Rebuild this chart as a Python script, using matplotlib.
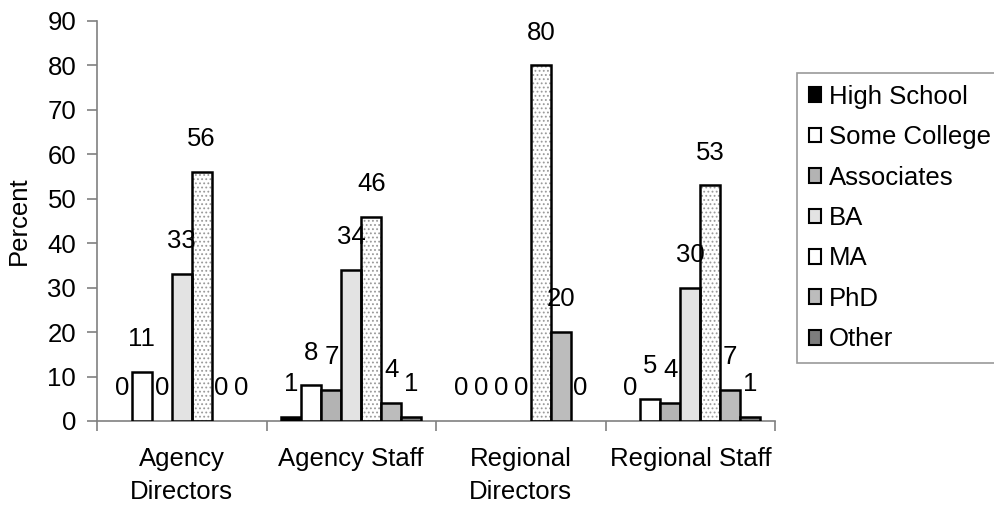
import matplotlib
matplotlib.use("Agg")
import matplotlib.pyplot as plt
import numpy as np
from matplotlib.patches import Patch

plt.rcParams["font.family"] = ["Liberation Sans", "DejaVu Sans"]
plt.rcParams["hatch.linewidth"] = 0.8

# Education level by respondent group (percent)
categories = ["Agency\nDirectors", "Agency Staff", "Regional\nDirectors", "Regional Staff"]
levels = ["High School", "Some College", "Associates", "BA", "MA", "PhD", "Other"]
high_school = [0, 1, 0, 0]
some_college = [11, 8, 0, 5]
associates = [0, 7, 0, 4]
ba = [33, 34, 0, 30]
ma = [56, 46, 80, 53]
phd = [0, 4, 20, 7]
other = [0, 1, 0, 1]
series = [high_school, some_college, associates, ba, ma, phd, other]
yticks = [0, 10, 20, 30, 40, 50, 60, 70, 80, 90]

fills = ["#000000", "#ffffff", "#b3b3b3", "#e3e3e3", "#ffffff", "#bcbcbc", "#7d7d7d"]
hatches = [None, None, None, None, "....", None, None]

fig = plt.figure(figsize=(9.95, 5.08), dpi=100)
ax = fig.add_axes([0.0975, 0.1713, 0.6815, 0.7874])

n = len(levels)
gap = 1.5
width = 1.0 / (n + gap)
x = np.arange(len(categories))
fs = 18.5

for i, (vals, col, h) in enumerate(zip(series, fills, hatches)):
    pos = x + (i - (n - 1) / 2) * width
    lws = [1.8 if v > 0 else 0 for v in vals]
    if h:
        ax.bar(pos, vals, width, color=col, hatch=h, edgecolor="#9a9a9a", linewidth=0, zorder=2)
        bars = ax.bar(pos, vals, width, fill=False, edgecolor="black", linewidth=lws, zorder=3)
    else:
        bars = ax.bar(pos, vals, width, color=col, edgecolor="black", linewidth=lws, zorder=3)
    ax.bar_label(bars, labels=[str(v) for v in vals], padding=15, fontsize=fs)

ax.set_xlim(-0.5, len(categories) - 0.5)
ax.set_ylim(0, 90)
ax.set_yticks(yticks)
ax.tick_params(axis="y", labelsize=fs, length=7, width=1.2, color="#808080", direction="out", pad=8)
ax.set_xticks(np.arange(len(categories) + 1) - 0.5, minor=False)
ax.set_xticklabels([""] * (len(categories) + 1))
ax.set_xticks(x, minor=True)
ax.set_xticklabels(categories, minor=True, fontsize=fs, linespacing=1.45)
ax.tick_params(axis="x", which="major", length=7, width=1.2, color="#808080", direction="out")
ax.tick_params(axis="x", which="minor", length=0, pad=19)
for s in ["top", "right"]:
    ax.spines[s].set_visible(False)
for s in ["left", "bottom"]:
    ax.spines[s].set_color("#808080")
    ax.spines[s].set_linewidth(1.2)
ax.set_ylabel("Percent", fontsize=fs, labelpad=12)

handles = []
for lab, col, h in zip(levels, fills, hatches):
    handles.append(Patch(facecolor=col, edgecolor="black", linewidth=1.5, label=lab))
leg = fig.legend(handles=handles, loc="upper left", bbox_to_anchor=(0.801, 0.856),
                 fontsize=fs, frameon=True, fancybox=False, edgecolor="#808080",
                 handlelength=0.5, handleheight=0.5, handletextpad=0.3,
                 labelspacing=0.64, borderpad=0.45, borderaxespad=0)
leg.get_frame().set_linewidth(1.2)

fig.savefig("out.png", dpi=100)
